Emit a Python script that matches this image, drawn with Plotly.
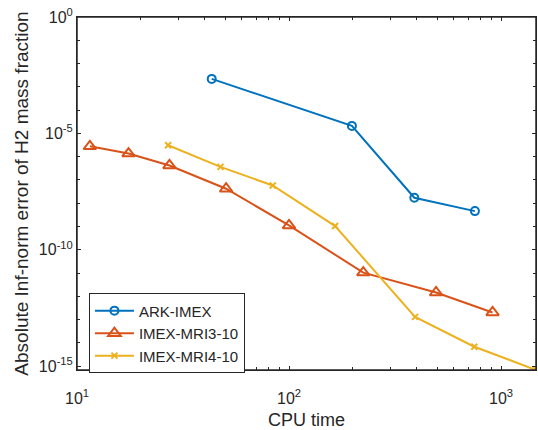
import numpy as np
import plotly.graph_objects as go

# ---- data ----
ark_x = [43.2, 198, 390, 753]
ark_y = [2.2e-3, 2.1e-5, 1.72e-8, 4.6e-9]

mri3_x = [11.5, 17.5, 27.3, 50.5, 100, 224, 494, 912]
mri3_y = [2.8e-6, 1.36e-6, 4.2e-7, 4.2e-8, 1.12e-9, 1.05e-11, 1.47e-12, 2.04e-13]

mri4_x = [26.9, 47.5, 83.8, 165, 393, 748, 1462]
mri4_y = [3.1e-6, 3.65e-7, 5.8e-8, 1.05e-9, 1.32e-13, 6.9e-15, 6.9e-16]

series_names = ["ARK-IMEX", "IMEX-MRI3-10", "IMEX-MRI4-10"]
x_label = "CPU time"
y_label = "Absolute Inf-norm error of H2 mass fraction"

x_major_exps = [1, 2, 3]
y_major_exps = [-15, -10, -5, 0]

# ---- styling ----
FONT = "Liberation Sans, Arial, Helvetica, sans-serif"
AX = "#262626"
colors = ["#0072BD", "#D95319", "#EDB120"]

fig = go.Figure()
fig.add_trace(go.Scatter(
    x=ark_x, y=ark_y, name=series_names[0], mode="lines+markers",
    line=dict(color=colors[0], width=2),
    marker=dict(symbol="circle-open", size=8, color=colors[0], line=dict(width=2, color=colors[0]))))
fig.add_trace(go.Scatter(
    x=mri3_x, y=mri3_y, name=series_names[1], mode="lines+markers",
    line=dict(color=colors[1], width=2),
    marker=dict(symbol="triangle-up-open", size=11, color=colors[1], line=dict(width=2, color=colors[1]))))
fig.add_trace(go.Scatter(
    x=mri4_x, y=mri4_y, name=series_names[2], mode="lines+markers",
    line=dict(color=colors[2], width=2),
    marker=dict(symbol="x-thin-open", size=6, color=colors[2], line=dict(width=2, color=colors[2]))))

all_x = ark_x + mri3_x + mri4_x
all_y = ark_y + mri3_y + mri4_y
x_range = [x_major_exps[0], np.log10(max(all_x))]
y_range = [np.log10(min(all_y)), y_major_exps[-1]]

x_minor = [m * 10 ** e for e in x_major_exps for m in range(2, 10)]
y_minor = [10.0 ** k for k in range(y_major_exps[0], y_major_exps[-1] + 1)]

common = dict(
    showline=True, linecolor=AX, linewidth=1, mirror="allticks",
    ticks="inside", ticklen=4, tickcolor=AX, tickwidth=1,
    showgrid=False, zeroline=False,
    tickfont=dict(family=FONT, size=16, color=AX),
    ticklabeloverflow="allow",
    automargin=False,
)

fig.update_xaxes(
    type="log", range=x_range,
    tickmode="array",
    tickvals=[10.0 ** e for e in x_major_exps],
    ticktext=[f"10<sup>{e}</sup>" for e in x_major_exps],
    minor=dict(tickmode="array", tickvals=x_minor, ticks="inside", ticklen=3, tickcolor=AX, tickwidth=1),
    ticklabelstandoff=14,
    title=dict(text=x_label, font=dict(family=FONT, size=18, color=AX), standoff=8),
    **common)
fig.update_yaxes(
    type="log", range=y_range,
    tickmode="array",
    tickvals=[10.0 ** e for e in y_major_exps],
    ticktext=[f"10<sup>{e}</sup>" for e in y_major_exps],
    minor=dict(tickmode="array", tickvals=y_minor, ticks="inside", ticklen=3, tickcolor=AX, tickwidth=1),
    title=dict(text=y_label, font=dict(family=FONT, size=19, color=AX), standoff=5),
    **common)

fig.update_layout(
    width=538, height=430,
    margin=dict(l=77, r=1.5, t=17, b=60, pad=0),
    paper_bgcolor="white", plot_bgcolor="white",
    font=dict(family=FONT, color=AX),
    legend=dict(
        x=0.026, y=0.217, xanchor="left", yanchor="top",
        bgcolor="white", bordercolor=AX, borderwidth=1,
        font=dict(family=FONT, size=15, color=AX),
        tracegroupgap=0, itemwidth=39,
    ),
    showlegend=True,
    # axes box (MATLAB "box on")
    shapes=[dict(type="rect", xref="paper", yref="paper", x0=0, x1=1, y0=0, y1=1,
                 line=dict(color=AX, width=1.5), fillcolor="rgba(0,0,0,0)", layer="above")],
)

# remove the page's default 8px body margin so the figure sits at the window origin
fig.write_html("out.html", config={"displayModeBar": False},
               post_script="document.body.style.margin='0';")
